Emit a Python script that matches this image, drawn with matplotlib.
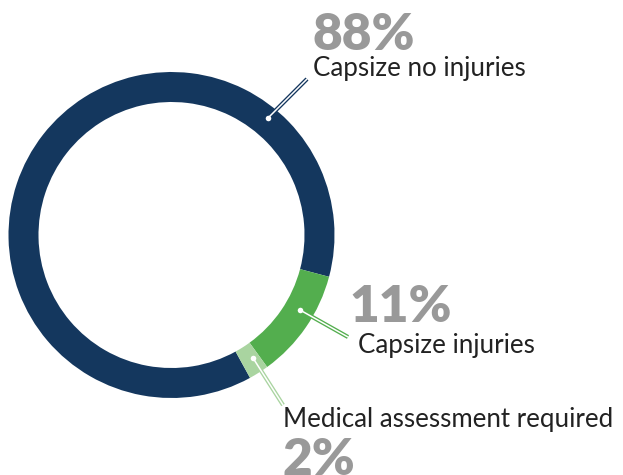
import matplotlib.pyplot as plt
import matplotlib.patheffects as pe

# data
labels = ["Capsize no injuries", "Capsize injuries", "Medical assessment required"]
values = [88, 11, 2]
pct_text = ["88%", "11%", "2%"]
colors = ["#14375e", "#53ae4e", "#a9d4a0"]

W, H = 623, 475
fig = plt.figure(figsize=(W / 100, H / 100), dpi=100)
ax = fig.add_axes([0, 0, 1, 1])

cx, cy, r = 171.5, H - 235, 163
ax.pie(
    values,
    colors=colors,
    startangle=298.8,
    counterclock=False,
    radius=r,
    center=(cx, cy),
    wedgeprops=dict(width=30, linewidth=0),
)
ax.set_xlim(0, W)
ax.set_ylim(0, H)
ax.set_aspect("equal")
ax.axis("off")

# leader lines (pixel coords, y from top)
leaders = [
    ((268, 118), (307, 79)),
    ((300, 310), (348, 337)),
    ((253, 358), (283, 405)),
]
for (p0, p1), c in zip(leaders, colors):
    ax.plot(
        [p0[0], p1[0]], [H - p0[1], H - p1[1]],
        color="white", linewidth=1.1, solid_capstyle="butt",
        path_effects=[pe.Stroke(linewidth=3.0, foreground=c), pe.Normal()],
    )
    ax.plot(p0[0], H - p0[1], "o", color="white", markersize=4, markeredgewidth=0)

font = "Lato"
gray = "#999999"
dark = "#222222"
pct_kw = dict(fontsize=37, fontweight="heavy", color=gray, family=font)
lab_kw = dict(fontsize=18.6, color=dark, family=font)

# percentage text and labels
ax.text(312, H - 50, pct_text[0], **pct_kw)
ax.text(313, H - 76, labels[0], **lab_kw)
ax.text(349, H - 322, pct_text[1], **pct_kw)
ax.text(358, H - 353, labels[1], **lab_kw)
ax.text(283, H - 427, labels[2], **lab_kw)
ax.text(282, H - 475, pct_text[2], **pct_kw)

fig.savefig("out.png", dpi=100)
